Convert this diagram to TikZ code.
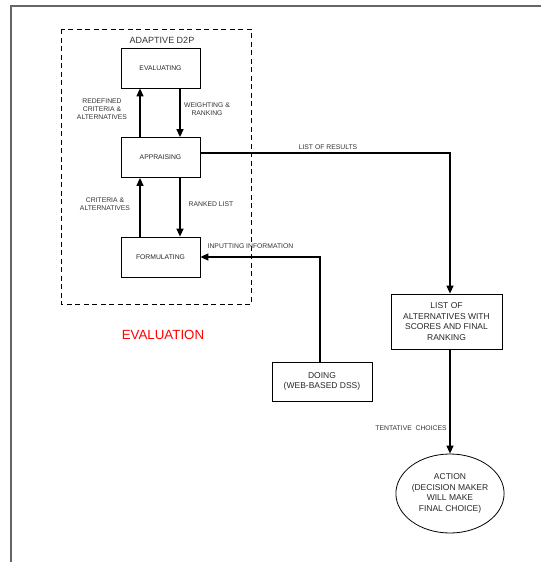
\documentclass[tikz,border=0pt]{standalone}
\usepackage{fontspec}
\setmainfont{Liberation Sans}
\usepackage{tikz}
\usetikzlibrary{shapes.geometric}
\usetikzlibrary{arrows.meta}

\begin{document}
\begin{tikzpicture}[x=1pt,y=-1pt,
	stage/.style={draw,line width=0.8pt,minimum width=79pt,minimum height=40pt,inner sep=0pt,
		text=black!85,font=\fontsize{6.8}{8}\selectfont},
	outbox/.style={draw,line width=0.8pt,inner sep=0pt,align=center,
		text=black!85,font=\fontsize{8.5}{10.7}\selectfont},
	lbl/.style={align=center,inner sep=0pt,text=black!80,font=\fontsize{6.8}{8}\selectfont},
	flow/.style={line width=1.3pt,-{Triangle[length=8pt,width=7pt]}}]
	\useasboundingbox (0,0) rectangle (541,562);
	% page frame and the dashed D2P loop
	\draw [black!60,line width=1.3pt] (11,562) -- (11,6) -- (541,6);
	\draw [dashed,dash pattern=on 5pt off 3.5pt,line width=0.8pt] (61,29) rectangle (251,304);
	\begin{scope}[every node/.style={stage}]
	\node (eval) at (160.5,68) {EVALUATING};
	\node (appr) at (160.5,157.5) {APPRAISING};
	\node (form) at (160.5,257) {FORMULATING};
	\end{scope}
	\node [outbox,minimum width=100pt,minimum height=39pt] (doing) at (322,381.5) {DOING\\(WEB-BASED DSS)};
	\node [outbox,minimum width=111pt,minimum height=55pt] (list) at (446.5,321.5) {LIST OF\\ALTERNATIVES WITH\\SCORES AND FINAL\\RANKING};
	\node [outbox,ellipse,minimum width=97pt,minimum height=79pt] (action) at (450,493.5) {ACTION\\(DECISION MAKER\\WILL MAKE\\FINAL CHOICE)};
	\draw [flow] ([xshift=-20.5pt]appr.north) -- ([xshift=-20.5pt]eval.south);
	\draw [flow] ([xshift=19.5pt]eval.south) -- ([xshift=19.5pt]appr.north);
	\draw [flow] ([xshift=-20.5pt]form.north) -- ([xshift=-20.5pt]appr.south);
	\draw [flow] ([xshift=19.5pt]appr.south) -- ([xshift=19.5pt]form.north);
	\draw [flow] ([yshift=4.5pt]appr.east) -| ([xshift=3.5pt]list.north);
	\draw [flow] ([xshift=-2pt]doing.north) |- (form.east);
	\draw [flow] (action.north |- list.south) -- (action.north);
	\node [lbl,font=\fontsize{9}{10}\selectfont] (d2p) at (162,40) {ADAPTIVE D2P};
	\node [lbl] (redef) at (102,109) {REDEFINED\\CRITERIA \&\\ALTERNATIVES};
	\node [lbl] (weight) at (207,109) {WEIGHTING \&\\RANKING};
	\node [lbl] (crit) at (105,204) {CRITERIA \&\\ALTERNATIVES};
	\node [lbl] (ranked) at (211,204) {RANKED LIST};
	\node [lbl] (results) at (328,147) {LIST OF RESULTS};
	\node [lbl] (input) at (250.5,246) {INPUTTING INFORMATION};
	\node [lbl] (tent) at (411,428) {TENTATIVE\ \ CHOICES};
	\node [lbl,text=red,font=\fontsize{13.3}{15}\selectfont] (evaluation) at (163,335) {EVALUATION};
\end{tikzpicture}
\end{document}
